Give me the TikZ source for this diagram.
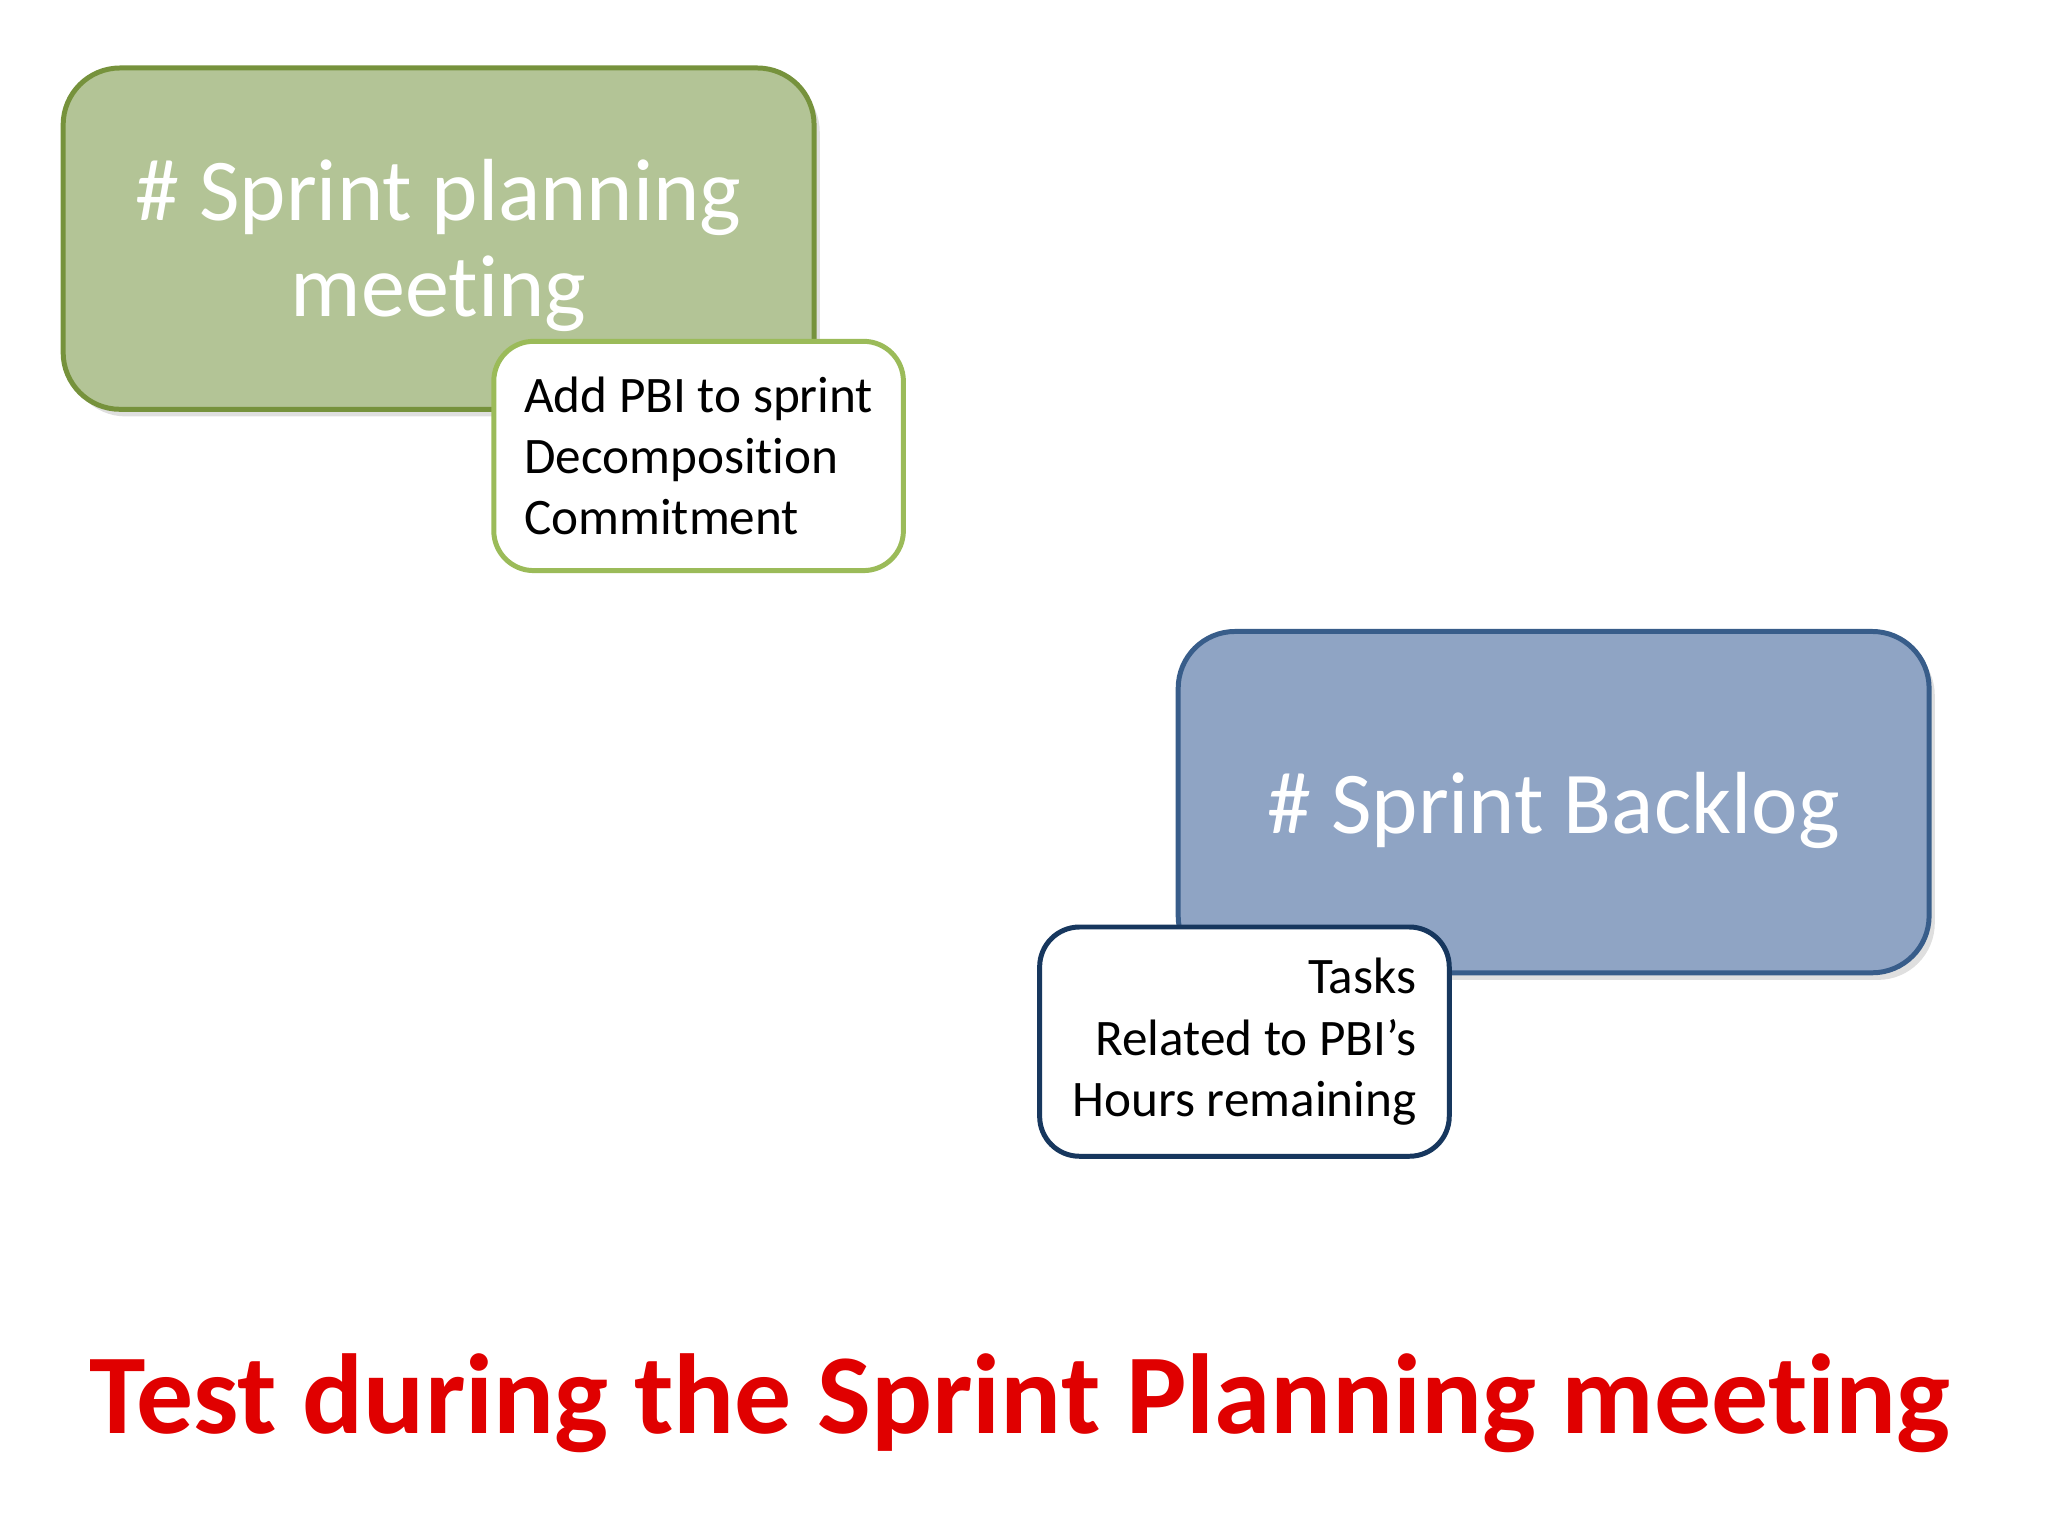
\documentclass[tikz,border=0pt]{standalone}
\usepackage{fontspec}
\setmainfont{Carlito}[Ligatures={NoCommon,NoContextual}]
\usetikzlibrary{shadows}

\definecolor{planfill}{RGB}{179,196,150}
\definecolor{planline}{RGB}{118,146,60}
\definecolor{noteline}{RGB}{155,187,89}
\definecolor{backfill}{RGB}{143,164,196}
\definecolor{backline}{RGB}{56,93,138}
\definecolor{taskline}{RGB}{23,55,94}
\definecolor{titlered}{RGB}{224,0,0}

\begin{document}
\begin{tikzpicture}[x=1pt,y=-1pt,
            bigbox/.style={draw, line width=1.75pt, rounded corners=20pt,
                minimum width=264pt, minimum height=120pt, inner sep=0pt,
                drop shadow={opacity=0.25, shadow xshift=2pt, shadow yshift=-2.5pt}},
            bigtext/.style={text=white, align=center, inner sep=0pt,
                font=\fontsize{31}{33.6}\selectfont},
            notebox/.style={draw, fill=white, line width=1.75pt, rounded corners=14pt,
                minimum width=144pt, minimum height=80.6pt, inner sep=0pt,
                font=\fontsize{18}{21.5}\selectfont}]
    \useasboundingbox (0,0) rectangle (720,540);

    \node[bigbox, fill=planfill, draw=planline] (plan) at (154.2,83.9) {};
    \node[bigtext] (plantext) at ([yshift=-2.3pt]plan.center)
        {\# Sprint planning\\meeting};
    \node[notebox, draw=noteline, align=left] (plannote) at (245.6,160.3)
        {Add PBI to sprint\\Decomposition\\Commitment};

    \node[bigbox, fill=backfill, draw=backline] (backlog) at (546.2,282.0) {};
    \node[bigtext] (backtext) at ([yshift=-3pt]backlog.center)
        {\# Sprint Backlog};
    \node[notebox, draw=taskline, align=right] (tasks) at (437.5,366.2)
        {Tasks\\Related to PBI’s\\Hours remaining};

    %title
    \node[anchor=base, inner sep=0pt, text=titlered,
        font=\fontsize{40}{48}\selectfont\bfseries] (title) at (358.6,504.1)
        {Test during the Sprint Planning meeting};
\end{tikzpicture}
\end{document}
